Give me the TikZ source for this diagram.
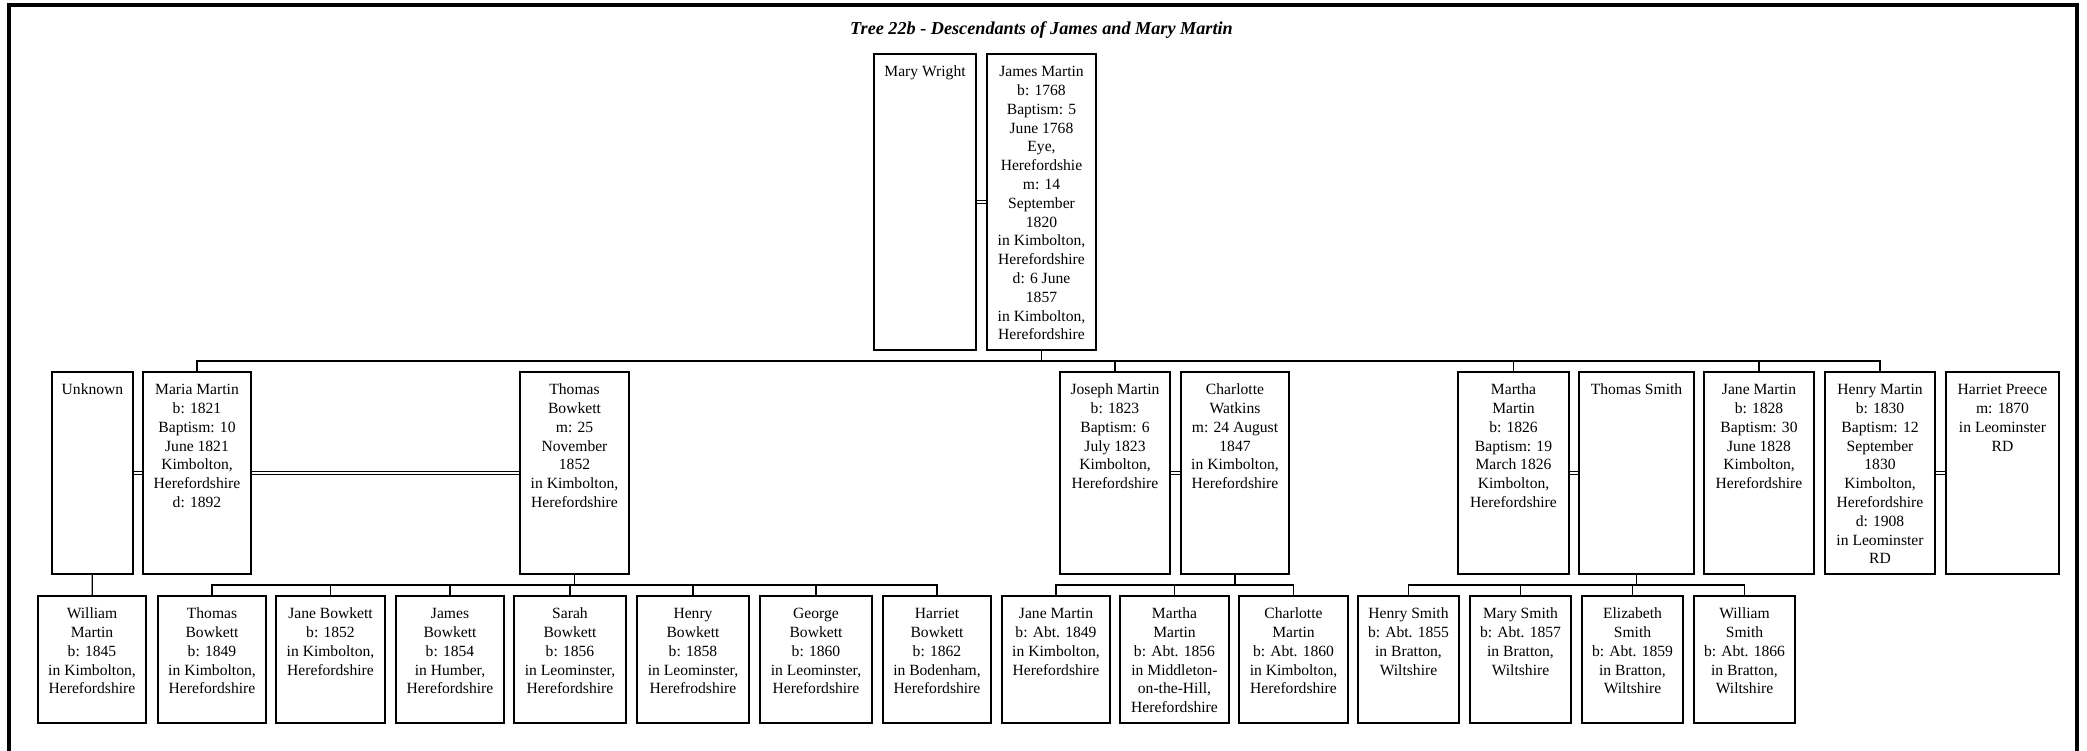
\documentclass[tikz,border=0pt]{standalone}
\usepackage{fontspec}
\setmainfont{Liberation Serif}
\usetikzlibrary{positioning}

\tikzset{
    person/.style={draw, line width=.6pt, inner sep=0pt, font=\fontsize{7.8}{9.4}\selectfont},
    wed/.style={double, line width=.5pt, double distance=1.3pt},
    kin/.style={line width=.6pt},
}
% boxes of the three rows: width, then the text
\newcommand{\famtop}[2]{\parbox[c][148pt][t]{#1}{\centering\rule{0pt}{11.3pt}#2}}
\newcommand{\fammid}[2]{\parbox[c][101pt][t]{#1}{\centering\rule{0pt}{11.3pt}#2}}
\newcommand{\famlow}[2]{\parbox[c][63.5pt][t]{#1}{\centering\rule{0pt}{11.3pt}#2}}

\begin{document}
\begin{tikzpicture}[x=0.5pt, y=-0.5pt]
    \useasboundingbox (0,0) rectangle (2087,750);
    \draw[line width=2pt] (9,760) -- (9,5) -- (2077,5) -- (2077,760);
    \node[font=\bfseries\itshape\fontsize{9.1}{11}\selectfont] (title) at (1041.5,30)
        {Tree 22b - Descendants of James and Mary Martin};

    % James and Mary
    \node[person] (marywright) at (925,202) {\famtop{51pt}{Mary Wright}};
    \node[person] (jamesmartin) at (1041.5,202) {\famtop{54.5pt}{James Martin\\b: 1768\\Baptism: 5\\June 1768\\Eye,\\Herefordshie\\m: 14\\September\\1820\\in Kimbolton,\\Herefordshire\\d: 6 June\\1857\\in Kimbolton,\\Herefordshire}};

    % their children and spouses
    \node[person] (unknown) at (92.5,473) {\fammid{40.5pt}{Unknown}};
    \node[person] (maria) at (197,473) {\fammid{54pt}{Maria Martin\\b: 1821\\Baptism: 10\\June 1821\\Kimbolton,\\Herefordshire\\d: 1892}};
    \node[person] (thomasb) at (574.5,473) {\fammid{54.5pt}{Thomas\\Bowkett\\m: 25\\November\\1852\\in Kimbolton,\\Herefordshire}};
    \node[person] (joseph) at (1115,473) {\fammid{55pt}{Joseph Martin\\b: 1823\\Baptism: 6\\July 1823\\Kimbolton,\\Herefordshire}};
    \node[person] (charlottew) at (1235,473) {\fammid{54pt}{Charlotte\\Watkins\\m: 24 August\\1847\\in Kimbolton,\\Herefordshire}};
    \node[person] (martha) at (1513.5,473) {\fammid{55.5pt}{Martha\\Martin\\b: 1826\\Baptism: 19\\March 1826\\Kimbolton,\\Herefordshire}};
    \node[person] (thomass) at (1636.5,473) {\fammid{57.5pt}{Thomas Smith}};
    \node[person] (janem) at (1759,473) {\fammid{55pt}{Jane Martin\\b: 1828\\Baptism: 30\\June 1828\\Kimbolton,\\Herefordshire}};
    \node[person] (henrym) at (1880,473) {\fammid{55pt}{Henry Martin\\b: 1830\\Baptism: 12\\September\\1830\\Kimbolton,\\Herefordshire\\d: 1908\\in Leominster\\RD}};
    \node[person] (harriet) at (2002.5,473) {\fammid{56.5pt}{Harriet Preece\\m: 1870\\in Leominster\\RD}};

    % grandchildren
    \node[person] (william) at (92,659.5) {\famlow{54pt}{William\\Martin\\b: 1845\\in Kimbolton,\\Herefordshire}};
    \node[person] (thomasbj) at (212,659.5) {\famlow{54pt}{Thomas\\Bowkett\\b: 1849\\in Kimbolton,\\Herefordshire}};
    \node[person] (janeb) at (330.5,659.5) {\famlow{54.5pt}{Jane Bowkett\\b: 1852\\in Kimbolton,\\Herefordshire}};
    \node[person] (jamesb) at (450,659.5) {\famlow{54pt}{James\\Bowkett\\b: 1854\\in Humber,\\Herefordshire}};
    \node[person] (sarah) at (570,659.5) {\famlow{56pt}{Sarah\\Bowkett\\b: 1856\\in Leominster,\\Herefordshire}};
    \node[person] (henryb) at (693,659.5) {\famlow{56pt}{Henry\\Bowkett\\b: 1858\\in Leominster,\\Herefrodshire}};
    \node[person] (george) at (816,659.5) {\famlow{56pt}{George\\Bowkett\\b: 1860\\in Leominster,\\Herefordshire}};
    \node[person] (harrietb) at (937,659.5) {\famlow{54pt}{Harriet\\Bowkett\\b: 1862\\in Bodenham,\\Herefordshire}};
    \node[person] (janemj) at (1056,659.5) {\famlow{54pt}{Jane Martin\\b: Abt. 1849\\in Kimbolton,\\Herefordshire}};
    \node[person] (marthaj) at (1174.5,659.5) {\famlow{54.5pt}{Martha\\Martin\\b: Abt. 1856\\in Middleton-\\on-the-Hill,\\Herefordshire}};
    \node[person] (charlottem) at (1293.5,659.5) {\famlow{54.5pt}{Charlotte\\Martin\\b: Abt. 1860\\in Kimbolton,\\Herefordshire}};
    \node[person] (henrys) at (1408.5,659.5) {\famlow{50.5pt}{Henry Smith\\b: Abt. 1855\\in Bratton,\\Wiltshire}};
    \node[person] (marys) at (1520.5,659.5) {\famlow{50.5pt}{Mary Smith\\b: Abt. 1857\\in Bratton,\\Wiltshire}};
    \node[person] (elizabeth) at (1632.5,659.5) {\famlow{50.5pt}{Elizabeth\\Smith\\b: Abt. 1859\\in Bratton,\\Wiltshire}};
    \node[person] (williams) at (1744.5,659.5) {\famlow{50.5pt}{William\\Smith\\b: Abt. 1866\\in Bratton,\\Wiltshire}};

    % marriages
    \draw[wed] (marywright) -- (jamesmartin);
    \draw[wed] (unknown) -- (maria);
    \draw[wed] (maria) -- (thomasb);
    \draw[wed] (joseph) -- (charlottew);
    \draw[wed] (martha) -- (thomass);
    \draw[wed] (henrym) -- (harriet);

    % descent
    \coordinate (barA) at (0,361);
    \coordinate (barB) at (0,585);
    \draw[kin] (jamesmartin.south) -- (jamesmartin.south |- barA);
    \draw[kin] (maria.north) |- (barA -| henrym.north) -- (henrym.north);
    \foreach \c in {joseph, martha, janem}
        \draw[kin] (\c.north) -- (\c.north |- barA);

    \draw[kin] (unknown) -- (william);

    \draw[kin] (thomasb.south) -- (thomasb.south |- barB);
    \draw[kin] (thomasbj.north) |- (barB -| harrietb.north) -- (harrietb.north);
    \foreach \c in {janeb, jamesb, sarah, henryb, george}
        \draw[kin] (\c.north) -- (\c.north |- barB);

    \draw[kin] (charlottew.south) -- (charlottew.south |- barB);
    \draw[kin] (janemj.north) |- (barB -| charlottem.north) -- (charlottem.north);
    \draw[kin] (marthaj.north) -- (marthaj.north |- barB);

    \draw[kin] (thomass.south) -- (thomass.south |- barB);
    \draw[kin] (henrys.north) |- (barB -| williams.north) -- (williams.north);
    \foreach \c in {marys, elizabeth}
        \draw[kin] (\c.north) -- (\c.north |- barB);
\end{tikzpicture}
\end{document}
